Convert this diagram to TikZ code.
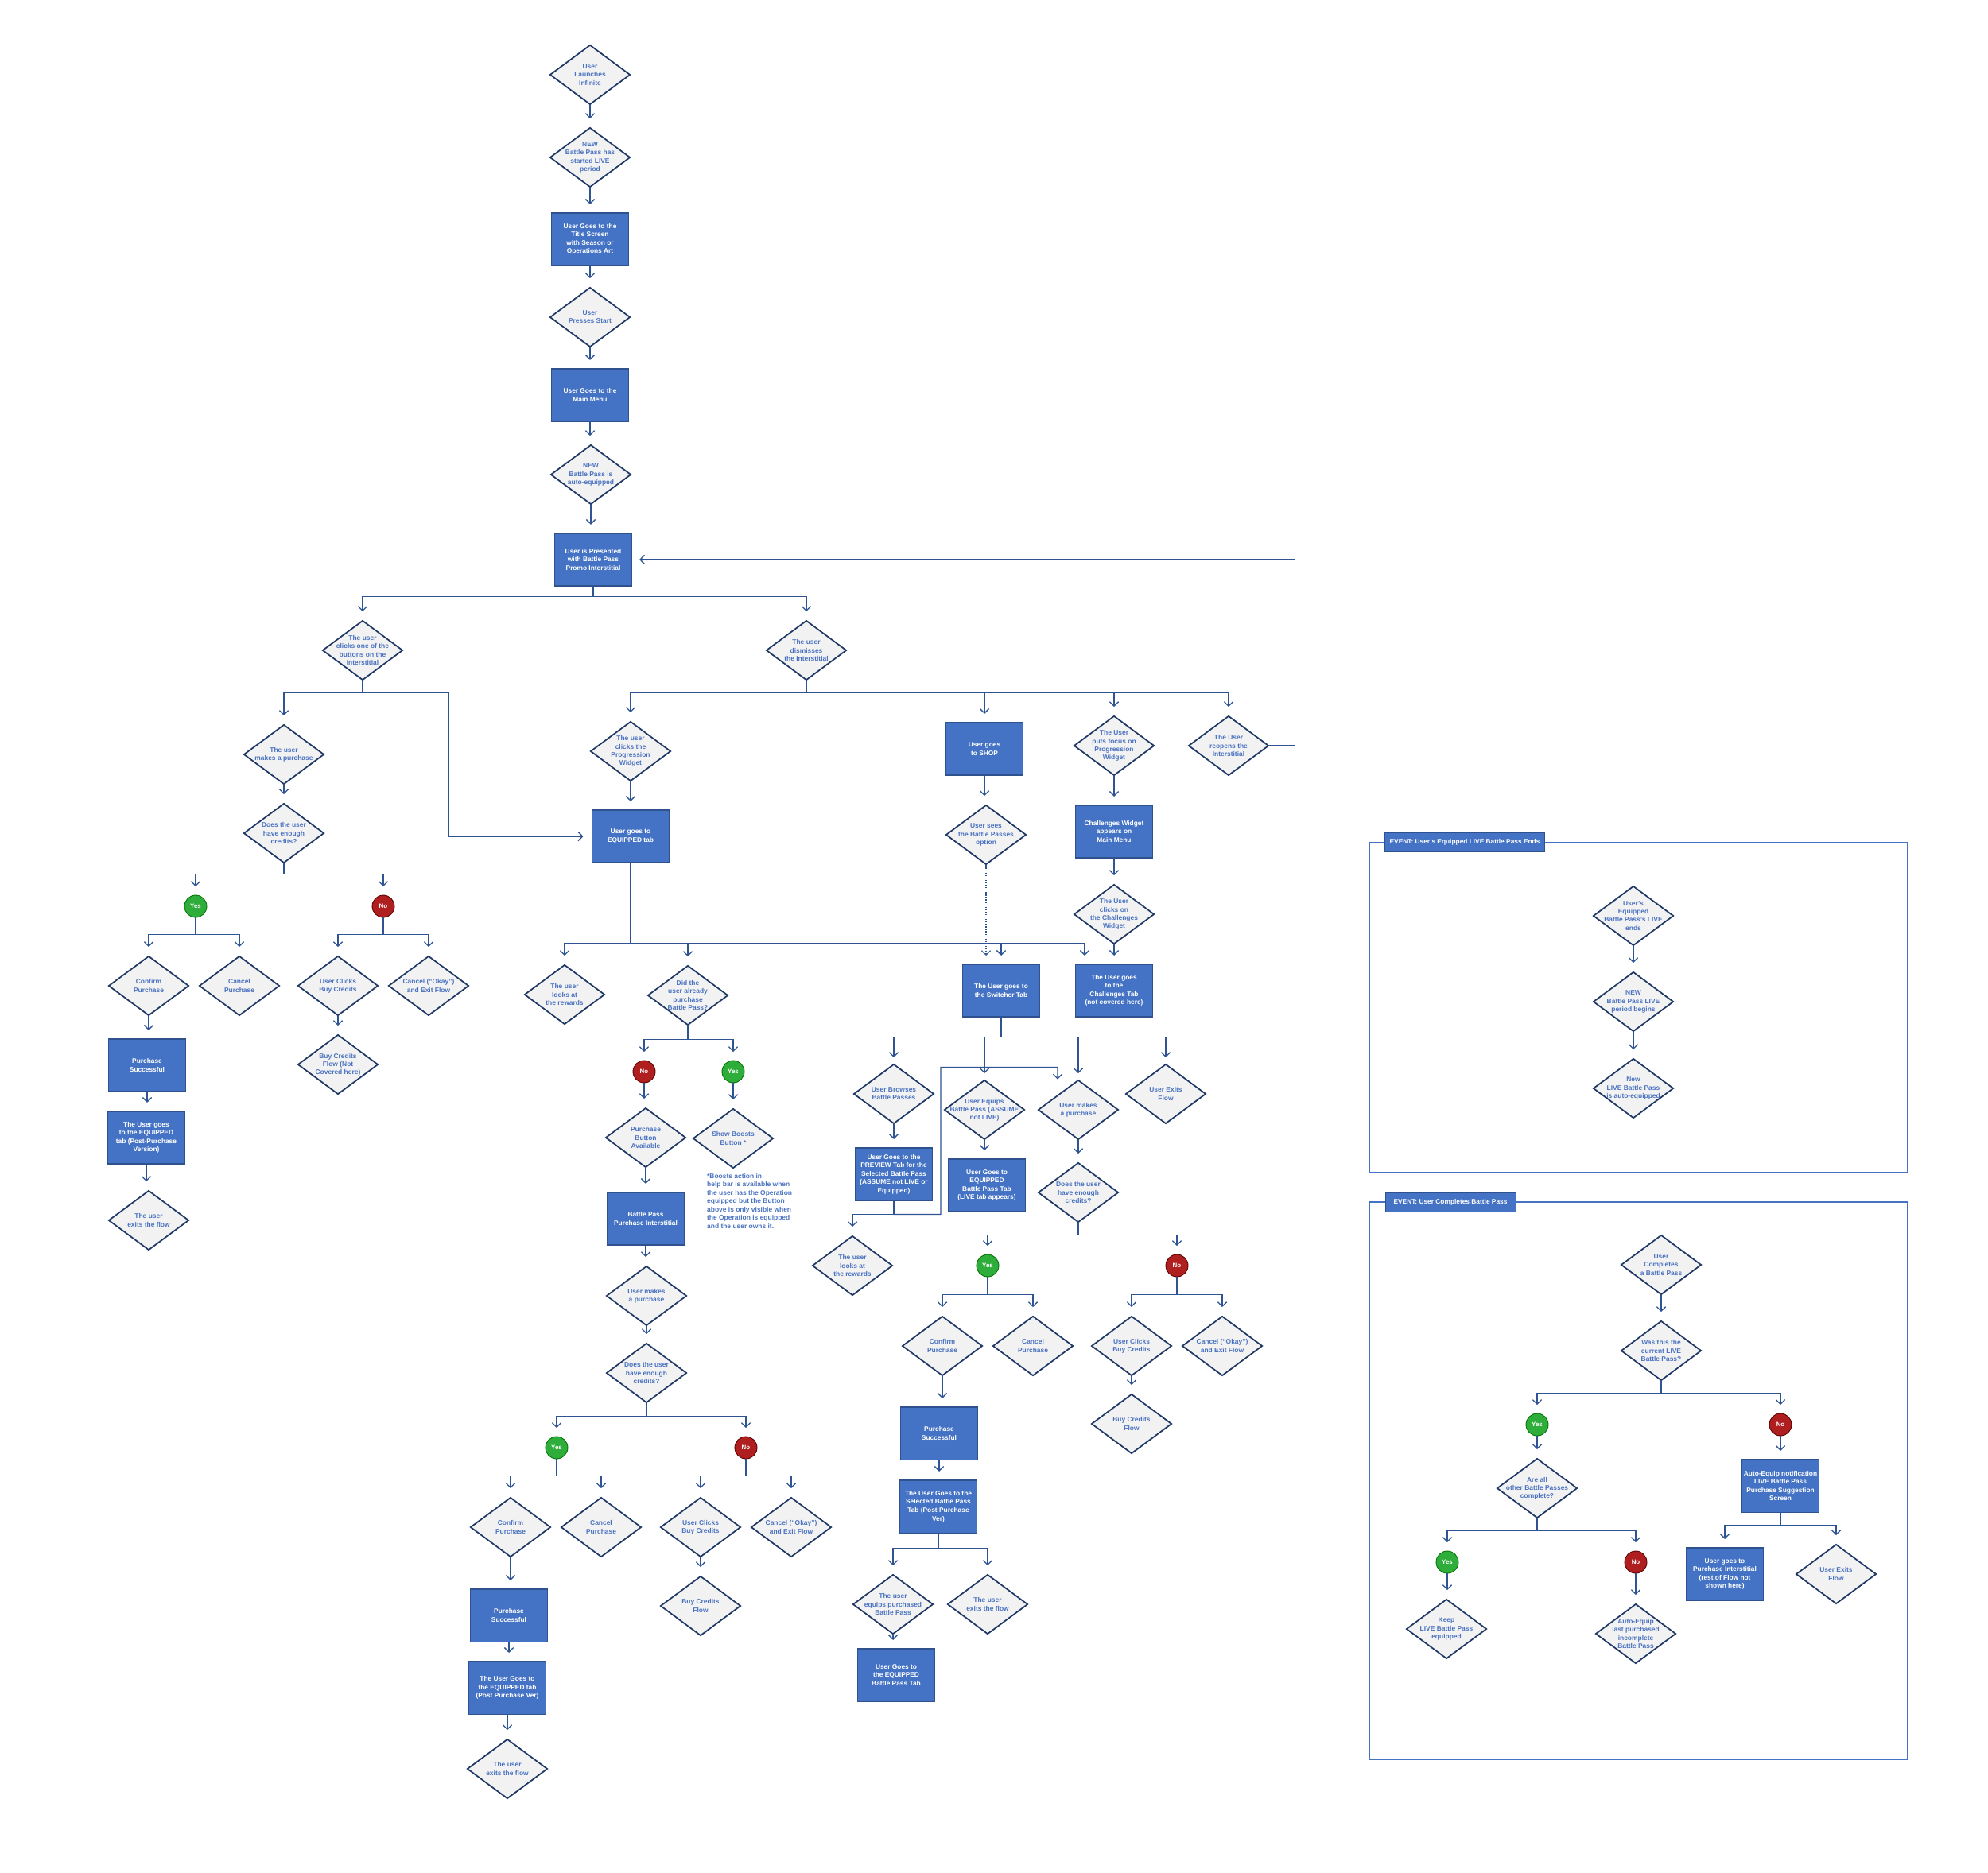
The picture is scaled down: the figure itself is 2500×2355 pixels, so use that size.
\documentclass[tikz,border=0pt]{standalone}
\usepackage{fontspec}
\setmainfont{Liberation Sans}
\usetikzlibrary{shapes.geometric,arrows.meta}
\definecolor{boxblue}{HTML}{4472C4}
\definecolor{boxedge}{HTML}{2F528F}
\definecolor{diaedge}{HTML}{1F3864}
\definecolor{diafill}{HTML}{F2F2F2}
\definecolor{diatext}{HTML}{4A72C0}
\definecolor{linkblue}{HTML}{2E5494}
\definecolor{yesgreen}{HTML}{2EAD3B}
\definecolor{nored}{HTML}{B01F1F}
\begin{document}
\begin{tikzpicture}[x=0.04cm,y=-0.04cm,
 box/.style={draw=boxedge,line width=1.2pt,fill=boxblue,text=white,font=\bfseries\fontsize{9.5}{12}\selectfont,align=center,minimum width=3.88cm,minimum height=2.64cm,inner sep=0pt},
 dia/.style={diamond,draw=diaedge,line width=2pt,fill=diafill,minimum width=4.04cm,minimum height=3cm,inner sep=0pt},
 dt/.style={text=diatext,font=\bfseries\fontsize{9.6}{11.6}\selectfont,align=center,inner sep=0pt},
 yesdot/.style={circle,draw=green!45!black,line width=1pt,fill=yesgreen,text=white,font=\bfseries\fontsize{9}{10}\selectfont,minimum size=1.12cm,inner sep=0pt},
 nodot/.style={circle,draw=red!35!black,line width=1pt,fill=nored,text=white,font=\bfseries\fontsize{9}{10}\selectfont,minimum size=1.12cm,inner sep=0pt},
 arr/.style={draw=linkblue,line width=1.5pt,-{Straight Barb[length=0.22cm,width=0.45cm]},shorten >=0.42cm},
 evtab/.style={fill=boxblue,draw=boxedge,line width=0.8pt,text=white,font=\bfseries\fontsize{9.5}{11}\selectfont,minimum height=0.96cm,inner sep=0pt},
 note/.style={text=diatext,font=\bfseries\fontsize{9.6}{11.9}\selectfont,align=left,inner sep=0pt}]
\fill[white] (0,0) rectangle (2500,2355);
\useasboundingbox (0,0) rectangle (2500,2355);

\node[dia,label={[dt]center:{User\\Launches\\Infinite}}] (launch) at (742,94) {};
\node[dia,label={[dt]center:{NEW\\Battle Pass has\\started LIVE\\period}}] (newbp) at (742,198) {};
\node[box] (titlescr) at (742,301) {User Goes to the\\Title Screen\\with Season or\\Operations Art};
\node[dia,label={[dt]center:{User\\Presses Start}}] (pressstart) at (742,399) {};
\node[box] (mainmenu) at (742,497) {User Goes to the\\Main Menu};
\node[dia,label={[dt]center:{NEW\\Battle Pass is\\auto-equipped}}] (autoeq) at (743,597) {};
\node[box] (promo) at (746,704) {User is Presented\\with Battle Pass\\Promo Interstitial};
\foreach \a/\b in {launch/newbp,newbp/titlescr,titlescr/pressstart,pressstart/mainmenu,mainmenu/autoeq,autoeq/promo}
  \draw[arr] (\a) -- (\a |- \b.north);

\node[dia,label={[dt]center:{The user\\clicks one of the\\buttons on the\\Interstitial}}] (clickbtn) at (456,818) {};
\node[dia,label={[dt]center:{The user\\dismisses\\the Interstitial}}] (dismiss) at (1014,818) {};
\draw[arr] (promo.south) -- ++(0,13) -| (clickbtn.north);\draw[arr] (promo.south) -- ++(0,13) -| (dismiss.north);

% left branch
\node[dia,label={[dt]center:{The user\\makes a purchase}}] (buy1) at (357,949) {};
\node[dia,label={[dt]center:{Does the user\\have enough\\credits?}}] (credits1) at (357,1048) {};
\node[yesdot] (yes1) at (246,1140) {Yes};\node[nodot] (no1) at (482,1140) {No};
\node[dia,label={[dt]center:{Confirm\\Purchase}}] (confirm1) at (187,1240) {};
\node[dia,label={[dt]center:{Cancel\\Purchase}}] (cancel1) at (301,1240) {};
\node[dia,label={[dt]center:{User Clicks\\Buy Credits}}] (buycr1) at (425,1240) {};
\node[dia,label={[dt]center:{Cancel (``Okay'')\\and Exit Flow}}] (okexit1) at (539,1240) {};
\node[dia,label={[dt]center:{Buy Credits\\Flow (Not\\Covered here)}}] (bcflow1) at (425,1339) {};
\node[box] (success1) at (185,1340) {Purchase\\Successful};
\node[box] (eqpost1) at (184,1431) {The User goes\\to the EQUIPPED\\tab (Post-Purchase\\Version)};
\node[dia,label={[dt]center:{The user\\exits the flow}}] (exit1) at (187,1535) {};
\draw[arr] (clickbtn.south) -- ++(0,15) -| (buy1.north);
\draw[arr] (buy1) -- (buy1 |- credits1.north);
\draw[arr] (credits1.south) -- ++(0,13) -| (yes1.north);\draw[arr] (credits1.south) -- ++(0,13) -| (no1.north);
\draw[arr] (yes1.south) -- ++(0,21) -| (confirm1.north);\draw[arr] (yes1.south) -- ++(0,21) -| (cancel1.north);
\draw[arr] (no1.south) -- ++(0,21) -| (buycr1.north);\draw[arr] (no1.south) -- ++(0,21) -| (okexit1.north);
\draw[arr] (buycr1) -- (buycr1 |- bcflow1.north);
\draw[arr] (confirm1) -- (confirm1 |- success1.north);
\draw[arr] (success1) -- (success1 |- eqpost1.north);
\draw[arr] (eqpost1) -- (eqpost1 |- exit1.north);

% dismiss branch
\node[dia,label={[dt]center:{The user\\clicks the\\Progression\\Widget}}] (progw) at (793,945) {};
\node[box] (shop) at (1238,942) {User goes\\to SHOP};
\node[dia,label={[dt]center:{The User\\puts focus on\\Progression\\Widget}}] (focus) at (1401,938) {};
\node[dia,label={[dt]center:{The User\\reopens the\\Interstitial}}] (reopen) at (1545,938) {};
\node[box] (eqtab) at (793,1052) {User goes to\\EQUIPPED tab};
\node[dia,label={[dt]center:{User sees\\the Battle Passes\\option}}] (bpopt) at (1240,1050) {};
\node[box] (chwidget) at (1401,1046) {Challenges Widget\\appears on\\Main Menu};
\node[dia,label={[dt]center:{The User\\clicks on\\the Challenges\\Widget}}] (chclick) at (1401,1150) {};
\foreach \t in {progw,shop,focus,reopen}
  \draw[arr] (dismiss.south) -- ++(0,15) -| (\t.north);
\draw[arr] (clickbtn.south) -- ++(0,15) -- ++(108,0) |- (eqtab.west);
\draw[arr,shorten >=0.36cm] (reopen.east) -- ++(32,0) |- (promo.east);
\draw[arr] (progw) -- (progw |- eqtab.north);
\draw[arr] (shop) -- (shop |- bpopt.north);
\draw[arr] (focus) -- (focus |- chwidget.north);
\draw[arr] (chwidget) -- (chwidget |- chclick.north);

% equipped tab
\node[dia,label={[dt]center:{The user\\looks at\\the rewards}}] (rewards1) at (710,1251) {};
\node[dia,label={[dt]center:{Did the\\user already\\purchase\\Battle Pass?}}] (already) at (865,1252) {};
\node[box] (switcher) at (1259,1246) {The User goes to\\the Switcher Tab};
\node[box] (chtab) at (1401,1246) {The User goes\\to the\\Challenges Tab\\(not covered here)};
\draw[arr] (eqtab.south) -- ++(0,101) -| (rewards1.north);\draw[arr] (eqtab.south) -- ++(0,101) -| (already.north);
\draw[arr] (eqtab.south) -- ++(0,101) -| (switcher.north);\draw[arr] (eqtab.south) -- ++(0,101) -| ([xshift=0.48cm]chtab.north west);
\draw[arr,dotted,line width=1.2pt] (bpopt) -- (bpopt |- switcher.north);
\draw[arr] (chclick) -- (chclick |- chtab.north);

\node[nodot] (no2) at (810,1348) {No};\node[yesdot] (yes2) at (922,1348) {Yes};
\node[dia,label={[dt]center:{Purchase\\Button\\Available}}] (btnavail) at (812,1431) {};
\node[dia,label={[dt]center:{Show Boosts\\Button *}}] (boosts) at (922,1432) {};
\node[note,anchor=north west] (boostnote) at (889,1476) {*Boosts action in\\help bar is available when\\the user has the Operation\\equipped but the Button\\above is only visible when\\the Operation is equipped\\and the user owns it.};
\node[box] (bpinter) at (812,1533) {Battle Pass\\Purchase Interstitial};
\node[dia,label={[dt]center:{User makes\\a purchase}}] (buy2) at (813,1630) {};
\node[dia,label={[dt]center:{Does the user\\have enough\\credits?}}] (credits2) at (813,1727) {};
\node[yesdot] (yes3) at (700,1821) {Yes};\node[nodot] (no3) at (938,1821) {No};
\node[dia,label={[dt]center:{Confirm\\Purchase}}] (confirm2) at (642,1921) {};
\node[dia,label={[dt]center:{Cancel\\Purchase}}] (cancel2) at (756,1921) {};
\node[dia,label={[dt]center:{User Clicks\\Buy Credits}}] (buycr2) at (881,1921) {};
\node[dia,label={[dt]center:{Cancel (``Okay'')\\and Exit Flow}}] (okexit2) at (995,1921) {};
\node[dia,label={[dt]center:{Buy Credits\\Flow}}] (bcflow2) at (881,2020) {};
\node[box] (success2) at (640,2032) {Purchase\\Successful};
\node[box] (eqpost2) at (638,2123) {The User Goes to\\the EQUIPPED tab\\(Post Purchase Ver)};
\node[dia,label={[dt]center:{The user\\exits the flow}}] (exit2) at (638,2225) {};
\draw[arr] (already.south) -- ++(0,17) -| (no2.north);\draw[arr] (already.south) -- ++(0,17) -| (yes2.north);
\draw[arr] (no2) -- (no2 |- btnavail.north);\draw[arr] (yes2) -- (yes2 |- boosts.north);
\draw[arr] (btnavail) -- (btnavail |- bpinter.north);
\draw[arr] (bpinter) -- (bpinter |- buy2.north);
\draw[arr] (buy2) -- (buy2 |- credits2.north);
\draw[arr] (credits2.south) -- ++(0,16) -| (yes3.north);\draw[arr] (credits2.south) -- ++(0,16) -| (no3.north);
\draw[arr] (yes3.south) -- ++(0,21) -| (confirm2.north);\draw[arr] (yes3.south) -- ++(0,21) -| (cancel2.north);
\draw[arr] (no3.south) -- ++(0,21) -| (buycr2.north);\draw[arr] (no3.south) -- ++(0,21) -| (okexit2.north);
\draw[arr] (buycr2) -- (buycr2 |- bcflow2.north);
\draw[arr] (confirm2) -- (confirm2 |- success2.north);
\draw[arr] (success2) -- (success2 |- eqpost2.north);
\draw[arr] (eqpost2) -- (eqpost2 |- exit2.north);

% switcher tab
\node[dia,label={[dt]center:{User Browses\\Battle Passes}}] (browse) at (1124,1376) {};
\node[dia,label={[dt]center:{User Equips\\Battle Pass (ASSUME\\not LIVE)}}] (equips) at (1238,1396) {};
\node[dia,label={[dt]center:{User makes\\a purchase}}] (buy3) at (1356,1396) {};
\node[dia,label={[dt]center:{User Exits\\Flow}}] (exitsw) at (1466,1376) {};
\node[box] (preview) at (1124,1477) {User Goes to the\\PREVIEW Tab for the\\Selected Battle Pass\\(ASSUME not LIVE or\\Equipped)};
\node[box] (eqbptab) at (1241,1491) {User Goes to\\EQUIPPED\\Battle Pass Tab\\(LIVE tab appears)};
\node[dia,label={[dt]center:{The user\\looks at\\the rewards}}] (rewards2) at (1072,1592) {};
\node[dia,label={[dt]center:{Does the user\\have enough\\credits?}}] (credits3) at (1356,1500) {};
\foreach \t in {browse,equips,buy3,exitsw}
  \draw[arr,shorten >=0.3cm] (switcher.south) -- ++(0,25) -| (\t.north);
\draw[arr] (browse) -- (browse |- preview.north);
\draw[arr] (equips) -- (equips |- eqbptab.north);
\draw[arr] (buy3) -- (buy3 |- credits3.north);
\draw[arr] (preview.south) -- ++(0,17) -| (rewards2.north);
\draw[arr,shorten >=0pt] (preview.south) -- ++(0,17) -- ++(59,0) |- ++(147,-185) -- ([xshift=-1.04cm]buy3.north);
\node[yesdot] (yes4) at (1242,1592) {Yes};\node[nodot] (no4) at (1480,1592) {No};
\node[dia,label={[dt]center:{Confirm\\Purchase}}] (confirm3) at (1185,1693) {};
\node[dia,label={[dt]center:{Cancel\\Purchase}}] (cancel3) at (1299,1693) {};
\node[dia,label={[dt]center:{User Clicks\\Buy Credits}}] (buycr3) at (1423,1693) {};
\node[dia,label={[dt]center:{Cancel (``Okay'')\\and Exit Flow}}] (okexit3) at (1537,1693) {};
\node[dia,label={[dt]center:{Buy Credits\\Flow}}] (bcflow3) at (1423,1791) {};
\node[box] (success3) at (1181,1803) {Purchase\\Successful};
\node[box] (selpost) at (1180,1895) {The User Goes to the\\Selected Battle Pass\\Tab (Post Purchase\\Ver)};
\node[dia,label={[dt]center:{The user\\equips purchased\\Battle Pass}}] (equipbp) at (1123,2018) {};
\node[dia,label={[dt]center:{The user\\exits the flow}}] (exit3) at (1242,2018) {};
\node[box] (eqbptab2) at (1127,2107) {User Goes to\\the EQUIPPED\\Battle Pass Tab};
\draw[arr] (credits3.south) -- ++(0,15) -| (yes4.north);\draw[arr] (credits3.south) -- ++(0,15) -| (no4.north);
\draw[arr] (yes4.south) -- ++(0,22) -| (confirm3.north);\draw[arr] (yes4.south) -- ++(0,22) -| (cancel3.north);
\draw[arr] (no4.south) -- ++(0,22) -| (buycr3.north);\draw[arr] (no4.south) -- ++(0,22) -| (okexit3.north);
\draw[arr] (buycr3) -- (buycr3 |- bcflow3.north);
\draw[arr] (confirm3) -- (confirm3 |- success3.north);
\draw[arr] (success3) -- (success3 |- selpost.north);
\draw[arr] (selpost.south) -- ++(0,19) -| (equipbp.north);\draw[arr] (selpost.south) -- ++(0,19) -| (exit3.north);
\draw[arr] (equipbp) -- (equipbp |- eqbptab2.north);

% event: live pass ends
\draw[draw=boxblue,line width=1.2pt] (1722,1060) rectangle (2398,1475);
\node[evtab,minimum width=8.04cm] (ev1tab) at (1842,1059) {EVENT: User's Equipped LIVE Battle Pass Ends};
\node[dia,label={[dt]center:{User's\\Equipped\\Battle Pass's LIVE\\ends}}] (lvends) at (2054,1152) {};
\node[dia,label={[dt]center:{NEW\\Battle Pass LIVE\\period begins}}] (lvbegin) at (2054,1260) {};
\node[dia,label={[dt]center:{New\\LIVE Battle Pass\\is auto-equipped}}] (lvauto) at (2054,1369) {};
\draw[arr] (lvends) -- (lvends |- lvbegin.north);\draw[arr] (lvbegin) -- (lvbegin |- lvauto.north);

% event: pass completed
\draw[draw=boxblue,line width=1.2pt] (1722,1512) rectangle (2398,2213);
\node[evtab,minimum width=6.56cm] (ev2tab) at (1824,1512) {EVENT: User Completes Battle Pass};
\node[dia,label={[dt]center:{User\\Completes\\a Battle Pass}}] (compl) at (2089,1591) {};
\node[dia,label={[dt]center:{Was this the\\current LIVE\\Battle Pass?}}] (wascur) at (2089,1699) {};
\node[yesdot] (yes5) at (1933,1792) {Yes};\node[nodot] (no5) at (2239,1792) {No};
\node[dia,label={[dt]center:{Are all\\other Battle Passes\\complete?}}] (allcomp) at (1933,1872) {};
\node[yesdot] (yes6) at (1820,1965) {Yes};\node[nodot] (no6) at (2057,1965) {No};
\node[dia,label={[dt]center:{Keep\\LIVE Battle Pass\\equipped}}] (keep) at (1819,2049) {};
\node[dia,label={[dt]center:{Auto-Equip\\last purchased\\incomplete\\Battle Pass}}] (autolast) at (2057,2055) {};
\node[box] (autonote) at (2239,1869) {Auto-Equip notification\\LIVE Battle Pass\\Purchase Suggestion\\Screen};
\node[box] (purint) at (2169,1980) {User goes to\\Purchase Interstitial\\(rest of Flow not\\shown here)};
\node[dia,label={[dt]center:{User Exits\\Flow}}] (exitev) at (2309,1980) {};
\draw[arr] (compl) -- (compl |- wascur.north);
\draw[arr] (wascur.south) -- ++(0,15) -| (yes5.north);\draw[arr] (wascur.south) -- ++(0,15) -| (no5.north);
\draw[arr] (yes5) -- (yes5 |- allcomp.north);\draw[arr] (no5) -- (no5 |- autonote.north);
\draw[arr] (allcomp.south) -- ++(0,15) -| (yes6.north);\draw[arr] (allcomp.south) -- ++(0,15) -| (no6.north);
\draw[arr] (yes6) -- (yes6 |- keep.north);\draw[arr] (no6) -- (no6 |- autolast.north);
\draw[arr] (autonote.south) -- ++(0,16) -| (purint.north);\draw[arr] (autonote.south) -- ++(0,16) -| (exitev.north);
\end{tikzpicture}
\end{document}
